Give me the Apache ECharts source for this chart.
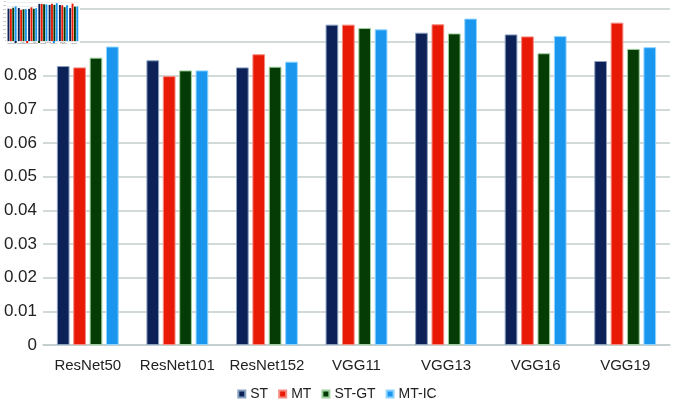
<!DOCTYPE html>
<html>
<head>
    <meta charset="utf-8" />
    <script src="https://cdn.jsdelivr.net/npm/echarts@6/dist/echarts.min.js"></script>
    <style>
        body { margin: 0; background: #fff; }
        #main { width: 674px; height: 406px; }
        #thumb { position: absolute; left: 0; top: 0; width: 80px; height: 48px; background: #fff; }
    </style>
</head>
<body>
    <div id="main"></div>
    <div id="thumb"></div>
    <script>
        var models = ['ResNet50', 'ResNet101', 'ResNet152', 'VGG11', 'VGG13', 'VGG16', 'VGG19'];
        var st   = [0.0829, 0.0846, 0.0825, 0.0952, 0.0928, 0.0923, 0.0844];
        var mt   = [0.0825, 0.0799, 0.0864, 0.0952, 0.0953, 0.0917, 0.0958];
        var stgt = [0.0854, 0.0816, 0.0827, 0.0942, 0.0926, 0.0867, 0.0880];
        var mtic = [0.0887, 0.0816, 0.0842, 0.0938, 0.0970, 0.0918, 0.0885];

        var names = ['ST', 'MT', 'ST-GT', 'MT-IC'];
        var colors = ['#0b2157', '#e81a06', '#053c05', '#1a96ee'];
        var edges = ['#8aa0c0', '#f58a80', '#9ed09e', '#8fd4ff'];
        var values = [st, mt, stgt, mtic];

        function makeSeries(bw, bgap, border) {
            return names.map(function (n, i) {
                return {
                    name: n,
                    type: 'bar',
                    data: values[i],
                    barWidth: bw,
                    barGap: bgap,
                    itemStyle: {
                        color: colors[i],
                        borderColor: edges[i],
                        borderWidth: border
                    }
                };
            });
        }

        var myChart = echarts.init(document.getElementById('main'));
        myChart.setOption({
            animation: false,
            textStyle: { fontFamily: 'Liberation Sans' },
            grid: { left: 43, right: 4, top: 8, bottom: 61 },
            legend: {
                data: names,
                bottom: 0,
                left: 'center',
                icon: 'rect',
                itemWidth: 7,
                itemHeight: 7,
                itemGap: 10,
                textStyle: { fontSize: 14, color: '#222', letterSpacing: -1 }
            },
            xAxis: {
                type: 'category',
                data: models,
                axisTick: { show: false },
                axisLine: { lineStyle: { color: '#c2cccc', width: 1.5 } },
                axisLabel: { interval: 0, fontSize: 15, color: '#222', margin: 13, letterSpacing: -1 }
            },
            yAxis: {
                type: 'value',
                min: 0,
                max: 0.1,
                interval: 0.01,
                axisLabel: { fontSize: 17, color: '#222', margin: 6 },
                splitLine: { lineStyle: { color: '#c2cccc', width: 1.5 } }
            },
            series: makeSeries(12.7, '29%', 1)
        });

        // small preview in the corner
        var thumb = echarts.init(document.getElementById('thumb'));
        thumb.setOption({
            animation: false,
            textStyle: { fontFamily: 'Liberation Sans' },
            grid: { left: 6, right: 1, top: 2, bottom: 7 },
            legend: {
                data: names,
                bottom: 0,
                left: 'center',
                icon: 'rect',
                itemWidth: 2,
                itemHeight: 2,
                itemGap: 2,
                textStyle: { fontSize: 2, color: '#666' }
            },
            xAxis: {
                type: 'category',
                data: models,
                axisTick: { show: false },
                axisLine: { lineStyle: { color: '#d0d8d8', width: 0.5 } },
                axisLabel: { interval: 0, fontSize: 2, color: '#666', margin: 1 }
            },
            yAxis: {
                type: 'value',
                min: 0,
                max: 0.1,
                interval: 0.01,
                axisLabel: { fontSize: 1.5, color: '#666', margin: 1 },
                splitLine: { lineStyle: { color: '#d8e0e0', width: 0.5 } }
            },
            series: makeSeries(1.9, '25%', 0)
        });
    </script>
</body>
</html>
